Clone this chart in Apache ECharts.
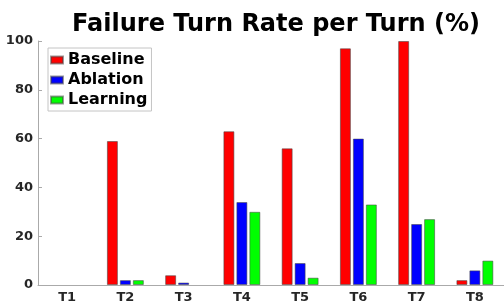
<!DOCTYPE html>
<html>
<head>
<meta charset="utf-8">
<script src="https://cdn.jsdelivr.net/npm/echarts@6/dist/echarts.min.js"></script>
<style>
  html, body { margin: 0; padding: 0; background: #fff; }
  #chart { width: 504px; height: 304px; }
</style>
</head>
<body>
<div id="chart"></div>
<script>
// turns on the x axis
let turns = ['T1', 'T2', 'T3', 'T4', 'T5', 'T6', 'T7', 'T8']
// failure rate per turn (%)
let baseline = [0, 59, 4, 63, 56, 97, 100, 2]
let ablation = [0, 2, 1, 34, 9, 60, 25, 6]
let learning = [0, 2, 0, 30, 3, 33, 27, 10]
let yTicks = [0, 20, 40, 60, 80, 100]

const font = 'DejaVu Sans'
const edge = 'rgba(70,70,70,0.55)'

function barSeries(name, data, color) {
  return {
    name: name,
    type: 'bar',
    // zero-height bars draw nothing in the original
    data: data.map(v => v === 0 ? { value: v, itemStyle: { borderWidth: 0 } } : v),
    barWidth: 11,
    barGap: '18%',
    itemStyle: { color: color, borderColor: edge, borderWidth: 1 }
  }
}

let chart = echarts.init(document.getElementById('chart'), null, {renderer: 'canvas'})

chart.setOption({
  animation: false,
  title: {
    text: 'Failure Turn Rate per Turn (%)',
    left: 271,
    textAlign: 'center',
    top: 8,
    textStyle: { fontFamily: font, fontWeight: 'bold', fontSize: 24, color: '#000' }
  },
  legend: {
    orient: 'vertical',
    left: 48,
    top: 48,
    padding: [2, 4, 1, 2],
    itemGap: 0,
    itemWidth: 12,
    itemHeight: 7,
    icon: 'rect',
    borderColor: '#c4c4c4',
    borderWidth: 1,
    backgroundColor: '#fff',
    textStyle: { fontFamily: font, fontWeight: 'bold', fontSize: 16, color: '#000', lineHeight: 20 },
    data: ['Baseline', 'Ablation', 'Learning']
  },
  grid: { left: 38, top: 41, width: 469, height: 248, containLabel: false },
  xAxis: {
    type: 'category',
    data: turns,
    axisLine: { lineStyle: { color: '#aaa' } },
    axisTick: { inside: true, alignWithLabel: true, length: 3, lineStyle: { color: '#aaa' } },
    axisLabel: { margin: 6, fontFamily: font, fontWeight: 'bold', fontSize: 13, color: '#262626' }
  },
  yAxis: {
    type: 'value',
    min: yTicks[0],
    max: yTicks[yTicks.length - 1],
    interval: 20,
    splitLine: { show: false },
    axisLine: { show: true, lineStyle: { color: '#aaa' } },
    axisTick: { show: true, inside: true, length: 4, lineStyle: { color: '#aaa' } },
    axisLabel: { margin: 5, fontFamily: font, fontWeight: 'bold', fontSize: 13, color: '#262626' }
  },
  series: [
    barSeries('Baseline', baseline, '#ff0000'),
    barSeries('Ablation', ablation, '#0000ff'),
    barSeries('Learning', learning, '#00ff00')
  ]
})
</script>
</body>
</html>
